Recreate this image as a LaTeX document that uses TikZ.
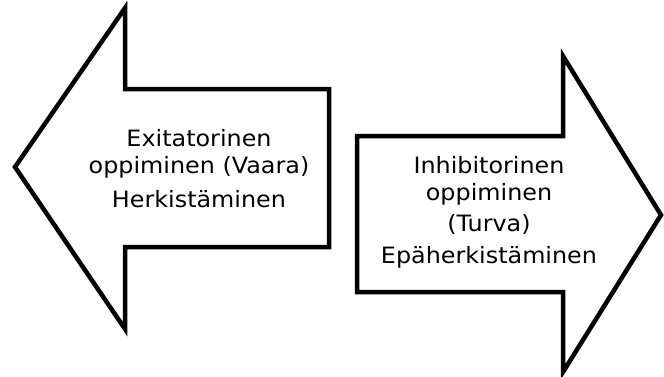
\documentclass[tikz,border=0pt]{standalone}
\usepackage{fontspec}
\setmainfont{DejaVu Sans}[FakeStretch=1.06]
\begin{document}
\begin{tikzpicture}[x=1pt, y=-1pt, line join=miter, font=\fontsize{22.5}{27}\selectfont]
	\tikzset{lbl/.style={anchor=base, inner sep=0pt}, pil/.style={draw=black, line width=4.5pt, fill=white}}
	\useasboundingbox (0,0) rectangle (664,376);
	% vasen nuoli
	\draw[pil] (15,167)--(125,8)--(125,89)--(329,89)--(329,247)--(125,247)--(125,329)--cycle;
	% oikea nuoli
	\draw[pil] (357,136)--(563,136)--(563,56)--(661,215)--(563,372)--(563,292)--(357,292)--cycle;
	\node[lbl] (exi) at (199,146) {Exitatorinen};
	\node[lbl] (opp1) at (199,173) {oppiminen (Vaara)};
	\node[lbl] (herk) at (199,207) {Herkistäminen};
	\node[lbl] (inh) at (489,173) {Inhibitorinen};
	\node[lbl] (opp2) at (489,200) {oppiminen};
	\node[lbl] (tur) at (489,231) {(Turva)};
	\node[lbl] (epa) at (489,263) {Epäherkistäminen};
\end{tikzpicture}
\end{document}
